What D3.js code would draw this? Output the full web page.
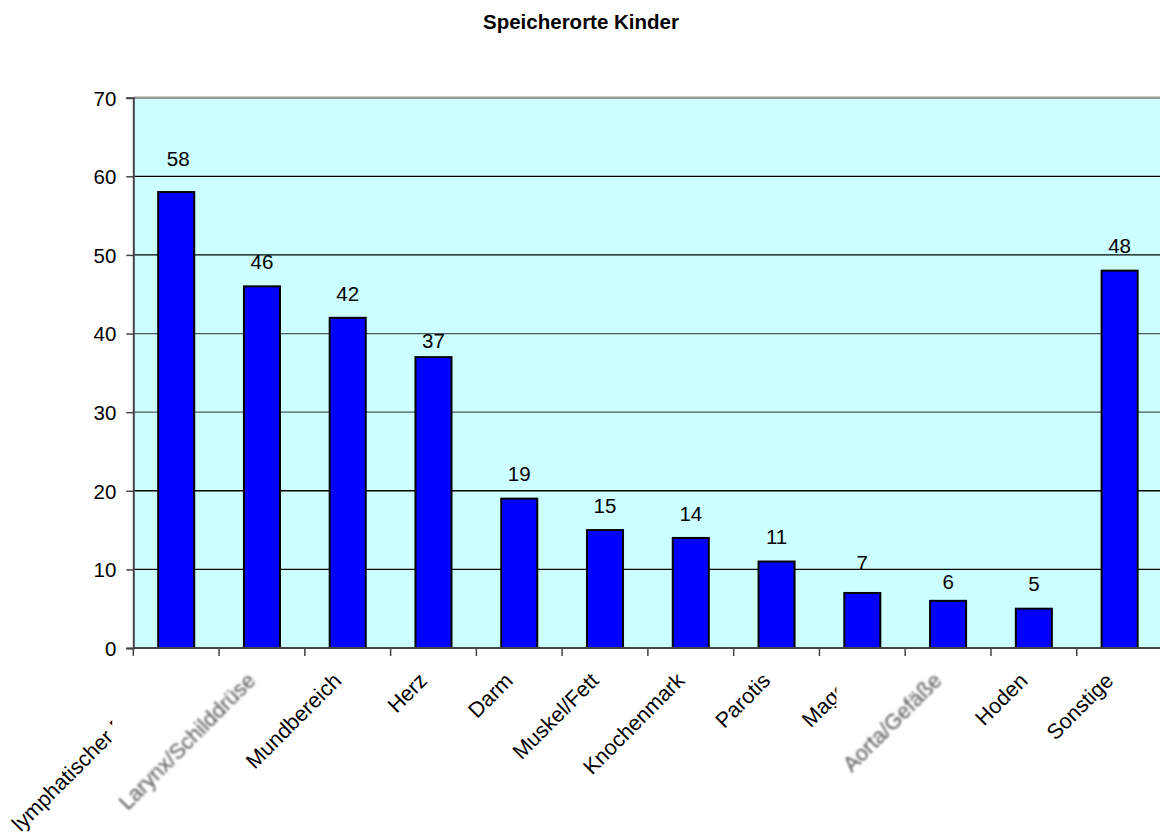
<!DOCTYPE html>
<html>
<head>
<meta charset="utf-8">
<script src="https://cdn.jsdelivr.net/npm/d3@7"></script>
<style>
  html, body { margin: 0; padding: 0; background: #fff; }
  svg { display: block; font-family: "Liberation Sans", Arial, sans-serif; }
</style>
</head>
<body>
<svg id="chart" width="1160" height="832"></svg>
<script>
// Storage sites in children: counts per location
const title = "Speicherorte Kinder";
const categories = [
  "lymphatischer Rachen", "Larynx/Schilddrüse", "Mundbereich", "Herz",
  "Darm", "Muskel/Fett", "Knochenmark", "Parotis", "Magen",
  "Aorta/Gefäße", "Hoden", "Sonstige"
];
const counts = [58, 46, 42, 37, 19, 15, 14, 11, 7, 6, 5, 48];
const yTicks = [0, 10, 20, 30, 40, 50, 60, 70];
// Labels rendered softened, each on its own white backing box
const softLabels = ["Larynx/Schilddrüse", "Aorta/Gefäße"];

// Layout: manually nudged value labels (dx, dy in px)
const valueLabelNudge = {
  "lymphatischer Rachen": [2, -8.5],
  "Herz": [0, 8],
  "Magen": [0, -6],
  "Aorta/Gefäße": [0, 5.6]
};

const svg = d3.select("#chart");
const plot = { left: 133.3, right: 1162.5, top: 97.7, bottom: 648 };

const x = d3.scaleBand()
  .domain(categories)
  .range([plot.left, plot.right])
  .paddingInner(0.58)
  .paddingOuter(0.29);

const y = d3.scaleLinear()
  .domain([0, 70])
  .range([plot.bottom, plot.top]);

const band = (plot.right - plot.left) / categories.length;

const defs = svg.append("defs");
defs.append("filter").attr("id", "soft")
  .attr("x", "-10%").attr("y", "-10%").attr("width", "120%").attr("height", "120%")
  .append("feGaussianBlur").attr("stdDeviation", 0.9);

// Title
svg.append("text")
  .attr("x", 581)
  .attr("y", 29)
  .attr("text-anchor", "middle")
  .attr("font-size", 20.5)
  .attr("font-weight", "bold")
  .attr("fill", "#000")
  .text(title);

// Plot background
svg.append("rect")
  .attr("x", plot.left)
  .attr("y", plot.top)
  .attr("width", plot.right - plot.left)
  .attr("height", plot.bottom - plot.top)
  .attr("fill", "#CCFFFF");

// Horizontal gridlines
svg.append("g")
  .selectAll("line")
  .data(yTicks.filter(d => d > 0 && d < 70))
  .join("line")
  .attr("x1", plot.left).attr("x2", plot.right)
  .attr("y1", d => y(d)).attr("y2", d => y(d))
  .attr("stroke", d => (d === 30 || d === 40) ? "#4a5a5a" : "#000")
  .attr("stroke-width", 1.3);

// Top border of plot area
svg.append("line")
  .attr("x1", plot.left).attr("x2", plot.right)
  .attr("y1", y(70)).attr("y2", y(70))
  .attr("stroke", "#999")
  .attr("stroke-width", 2.5);

// Bars
svg.append("g")
  .selectAll("rect")
  .data(counts)
  .join("rect")
  .attr("x", (d, i) => x(categories[i]))
  .attr("y", d => y(d))
  .attr("width", x.bandwidth())
  .attr("height", d => y(0) - y(d))
  .attr("fill", "#0000FF")
  .attr("stroke", "#000")
  .attr("stroke-width", 2);

// Value labels
svg.append("g")
  .selectAll("text")
  .data(counts)
  .join("text")
  .attr("x", (d, i) => x(categories[i]) + x.bandwidth() / 2 + (valueLabelNudge[categories[i]] || [0, 0])[0])
  .attr("y", (d, i) => y(d) - 17.3 + (valueLabelNudge[categories[i]] || [0, 0])[1])
  .attr("text-anchor", "middle")
  .attr("font-size", 20.5)
  .attr("fill", "#000")
  .text(d => d);

// Y axis
const yAxis = d3.axisLeft(y)
  .tickValues(yTicks)
  .tickSize(7)
  .tickPadding(10)
  .tickFormat(d3.format("d"));
const gy = svg.append("g")
  .attr("transform", `translate(${plot.left},0)`)
  .call(yAxis);
gy.select(".domain").attr("stroke", "#444").attr("stroke-width", 2);
gy.selectAll(".tick line").attr("stroke", "#444").attr("stroke-width", 1.5);
gy.selectAll(".tick text")
  .attr("font-size", 20.5)
  .attr("font-family", "Liberation Sans, Arial, sans-serif")
  .attr("fill", "#000")
  .attr("dy", "0.36em");

// X axis: ticks between categories
const boundaries = d3.range(categories.length + 1).map(i => plot.left + i * band);
const gx = svg.append("g");
gx.append("line")
  .attr("x1", plot.left).attr("x2", plot.right)
  .attr("y1", plot.bottom).attr("y2", plot.bottom)
  .attr("stroke", "#444").attr("stroke-width", 2);
gx.selectAll("line.tick")
  .data(boundaries)
  .join("line")
  .attr("class", "tick")
  .attr("x1", d => d).attr("x2", d => d)
  .attr("y1", plot.bottom).attr("y2", plot.bottom + 8)
  .attr("stroke", "#444").attr("stroke-width", 1.5);

// Rotated category labels, drawn in order; softened labels carry a white box
const labelLayer = svg.append("g");
categories.forEach((c, i) => {
  const cx = x(c) + x.bandwidth() / 2 - 5;
  const soft = softLabels.includes(c);
  const t = labelLayer.append("text")
    .attr("transform", `translate(${cx},682) rotate(-45)`)
    .attr("text-anchor", "end")
    .attr("font-size", 21.5)
    .attr("fill", soft ? "#555" : "#000")
    .text(c);
  if (soft) {
    const b = t.node().getBBox();
    const ctm = t.node().getCTM();
    const pts = [[b.x, b.y], [b.x + b.width, b.y], [b.x, b.y + b.height], [b.x + b.width, b.y + b.height]]
      .map(([px, py]) => [ctm.a * px + ctm.c * py + ctm.e, ctm.b * px + ctm.d * py + ctm.f]);
    const x0 = d3.min(pts, p => p[0]) - 2, x1 = d3.max(pts, p => p[0]);
    const y0 = d3.min(pts, p => p[1]) - 2, y1 = d3.max(pts, p => p[1]);
    labelLayer.insert("rect", () => t.node())
      .attr("x", x0).attr("y", y0)
      .attr("width", x1 - x0).attr("height", y1 - y0)
      .attr("fill", "#fff");
    t.attr("filter", "url(#soft)");
  }
});
</script>
</body>
</html>
